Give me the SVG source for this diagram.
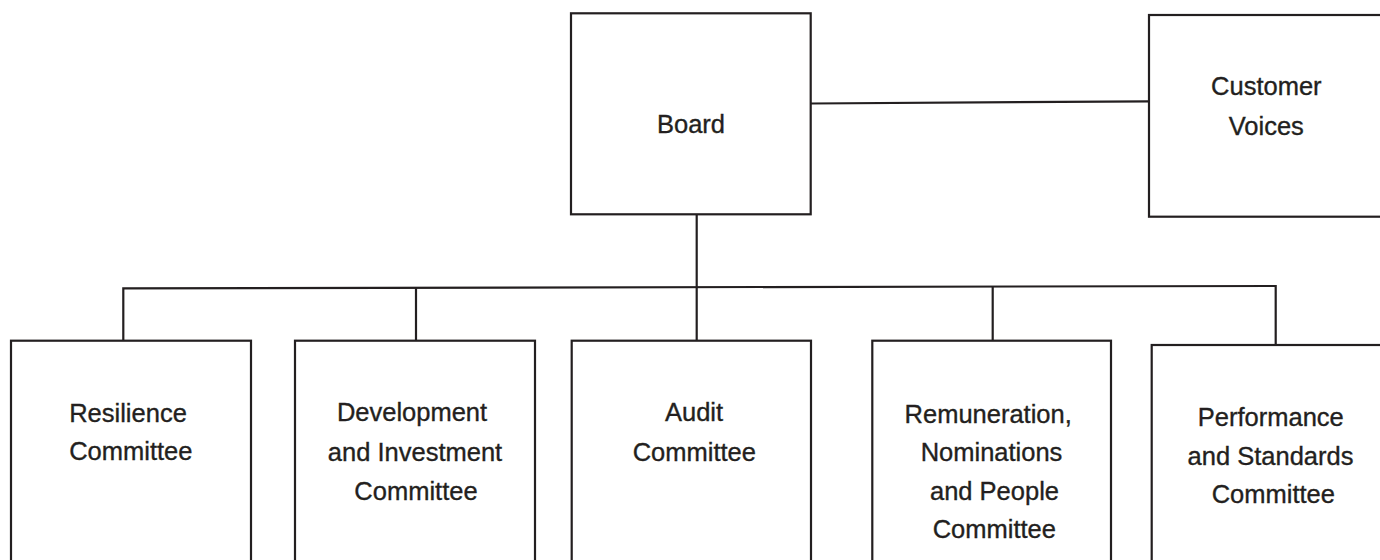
<svg xmlns="http://www.w3.org/2000/svg" width="1380" height="560" viewBox="0 0 1380 560">
<style>
.box{fill:#ffffff;stroke:#231f20;stroke-width:2.2}
.conn{fill:none;stroke:#231f20;stroke-width:2.2}
.lbl{font-family:"Liberation Sans",Arial,sans-serif;font-size:25.5px;fill:#231f20;stroke:#231f20;stroke-width:0.35;text-anchor:middle}
</style>
<rect width="1380" height="560" fill="#ffffff"/>
<g id="connectors">
<line class="conn" x1="811" y1="103.5" x2="1149" y2="101.3"/>
<line class="conn" x1="696.7" y1="214" x2="696.7" y2="287.3"/>
<polyline class="conn" points="123.3,340.7 123.3,288.3 1275.7,286 1275.7,345"/>
<line class="conn" x1="416" y1="288" x2="416" y2="340.7"/>
<line class="conn" x1="696.7" y1="287" x2="696.7" y2="340.7"/>
<line class="conn" x1="992.7" y1="286.6" x2="992.7" y2="340.7"/>
</g>
<g id="board">
<rect class="box" x="571" y="13.3" width="239.7" height="201"/>
<text class="lbl" x="691" y="133">Board</text>
</g>
<g id="customer-voices">
<rect class="box" x="1149" y="15" width="260" height="201.7"/>
<text class="lbl" x="1266.3" y="95">Customer</text>
<text class="lbl" x="1266.3" y="135">Voices</text>
</g>
<g id="resilience">
<rect class="box" x="11" y="340.7" width="240" height="240"/>
<text class="lbl" x="128" y="421.7">Resilience</text>
<text class="lbl" x="130.8" y="460">Committee</text>
</g>
<g id="development">
<rect class="box" x="295" y="340.7" width="240" height="240"/>
<text class="lbl" x="412" y="420.7">Development</text>
<text class="lbl" x="415" y="461">and Investment</text>
<text class="lbl" x="416" y="500">Committee</text>
</g>
<g id="audit">
<rect class="box" x="571.7" y="340.7" width="239.3" height="240"/>
<text class="lbl" x="694" y="421">Audit</text>
<text class="lbl" x="694.3" y="460.7">Committee</text>
</g>
<g id="remuneration">
<rect class="box" x="872.3" y="340.7" width="238.7" height="240"/>
<text class="lbl" x="988.2" y="422.7">Remuneration,</text>
<text class="lbl" x="991.5" y="460.7">Nominations</text>
<text class="lbl" x="994.5" y="500">and People</text>
<text class="lbl" x="994.3" y="538.3">Committee</text>
</g>
<g id="performance">
<rect class="box" x="1151.7" y="345" width="260" height="240"/>
<text class="lbl" x="1270.8" y="426">Performance</text>
<text class="lbl" x="1270.5" y="465">and Standards</text>
<text class="lbl" x="1273.3" y="503.3">Committee</text>
</g>
</svg>
